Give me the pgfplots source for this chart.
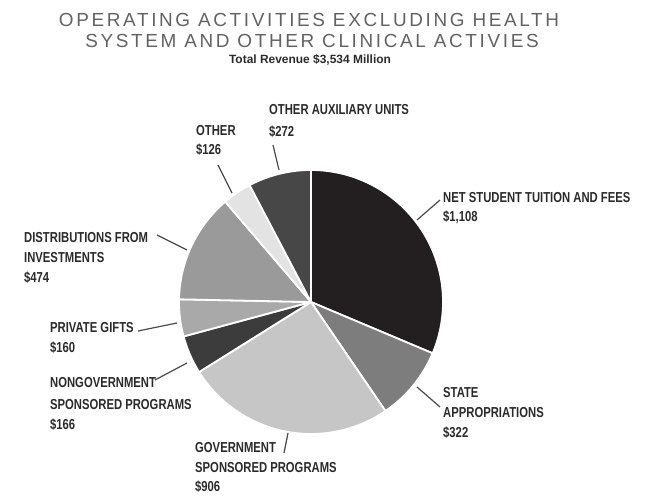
\documentclass[border=0pt]{standalone}
\usepackage{pgfplots}
\usepackage{pgfplotstable}
\pgfplotsset{compat=1.18}
\usepackage{fontspec}
\setmainfont{Liberation Sans}
\newfontfamily\condfont[FakeStretch=0.78]{Liberation Sans}
\newfontfamily\titlefont[LetterSpace=14]{Liberation Sans}

\definecolor{c1}{HTML}{231F20}
\definecolor{c2}{HTML}{7D7D7D}
\definecolor{c3}{HTML}{C6C6C6}
\definecolor{c4}{HTML}{3C3C3C}
\definecolor{c5}{HTML}{A9A9A9}
\definecolor{c6}{HTML}{9A9A9A}
\definecolor{c7}{HTML}{E3E3E3}
\definecolor{c8}{HTML}{474747}
\definecolor{labc}{HTML}{2A2A2A}
\definecolor{titc}{HTML}{626262}
\definecolor{linec}{HTML}{4A4A4A}

\pgfplotstableread[col sep=comma]{
label,value,colour
Net student tuition and fees,1108,c1
State appropriations,322,c2
Government sponsored programs,906,c3
Nongovernment sponsored programs,166,c4
Private gifts,160,c5
Distributions from investments,474,c6
Other,126,c7
Other auxiliary units,272,c8
}\piedata

\newcommand\labfont{\condfont\bfseries\fontsize{14.5}{16}\selectfont}

\begin{document}
\begin{tikzpicture}
\begin{axis}[x=1bp, y=1bp, xmin=0, xmax=647, ymin=0, ymax=497,
  hide axis, clip=false]
\path (axis cs:0,0) rectangle (axis cs:647,497);
% total
\pgfmathsetmacro\total{0}
\pgfplotsforeachungrouped \i in {0,...,7}{%
  \pgfplotstablegetelem{\i}{value}\of\piedata
  \pgfmathsetmacro\total{\total+\pgfplotsretval}%
}
\pgfmathsetmacro\cum{0}
\pgfplotsforeachungrouped \i in {0,...,7}{%
  \pgfplotstablegetelem{\i}{value}\of\piedata
  \let\sliceval\pgfplotsretval
  \pgfplotstablegetelem{\i}{colour}\of\piedata
  \let\slicecol\pgfplotsretval
  \pgfmathsetmacro\angA{90-360*(\cum/\total)}%
  \pgfmathsetmacro\angB{90-360*((\cum+\sliceval)/\total)}%
  \edef\temp{\noexpand\fill[\slicecol, draw=white, line width=1.8bp, line join=round]
    (axis cs:311,195) -- ++(\angA:132bp) arc[start angle=\angA, end angle=\angB, radius=132bp] -- cycle;}%
  \temp
  \pgfmathsetmacro\cum{\cum+\sliceval}%
}
% title
\node[anchor=base, inner sep=0pt, text=titc, font=\titlefont\fontsize{19}{21}\selectfont] at (axis cs:309,470) {OPERATING ACTIVITIES EXCLUDING HEALTH};
\node[anchor=base, inner sep=0pt, text=titc, font=\titlefont\fontsize{19}{21}\selectfont] at (axis cs:312,449) {SYSTEM AND OTHER CLINICAL ACTIVIES};
\node[anchor=base, inner sep=0pt, text=labc, font=\bfseries\fontsize{12}{14}\selectfont] at (axis cs:310,433) {Total Revenue \$3,534 Million};
% leader lines
\begin{scope}[linec, line width=1.2bp]
\draw (axis cs:440,297) -- (axis cs:417,277);
\draw (axis cs:417,110) -- (axis cs:440,90);
\draw (axis cs:288,64) -- (axis cs:284,44);
\draw (axis cs:155,117) -- (axis cs:187,134);
\draw (axis cs:138,166) -- (axis cs:177,174);
\draw (axis cs:157,262) -- (axis cs:187,247);
\draw (axis cs:218,332) -- (axis cs:232,304);
\draw (axis cs:273,352) -- (axis cs:279,327);
\end{scope}
% labels
\tikzset{lab/.style={anchor=base west, inner sep=0pt, text=labc, font=\labfont}}
\node[lab] at (axis cs:443,294) {NET STUDENT TUITION AND FEES};
\node[lab] at (axis cs:443,275) {\$1,108};
\node[lab] at (axis cs:443,99) {STATE};
\node[lab] at (axis cs:443,79) {APPROPRIATIONS};
\node[lab] at (axis cs:443,59) {\$322};
\node[lab] at (axis cs:195,44) {GOVERNMENT};
\node[lab] at (axis cs:195,24) {SPONSORED PROGRAMS};
\node[lab] at (axis cs:195,5) {\$906};
\node[lab] at (axis cs:50,109) {NONGOVERNMENT};
\node[lab] at (axis cs:50,87) {SPONSORED PROGRAMS};
\node[lab] at (axis cs:50,67) {\$166};
\node[lab] at (axis cs:50,164) {PRIVATE GIFTS};
\node[lab] at (axis cs:50,144) {\$160};
\node[lab] at (axis cs:24,254) {DISTRIBUTIONS FROM};
\node[lab] at (axis cs:24,234) {INVESTMENTS};
\node[lab] at (axis cs:24,214) {\$474};
\node[lab] at (axis cs:196,361) {OTHER};
\node[lab] at (axis cs:196,342) {\$126};
\node[lab] at (axis cs:269,382) {OTHER AUXILIARY UNITS};
\node[lab] at (axis cs:269,360) {\$272};
\end{axis}
\end{tikzpicture}
\end{document}
